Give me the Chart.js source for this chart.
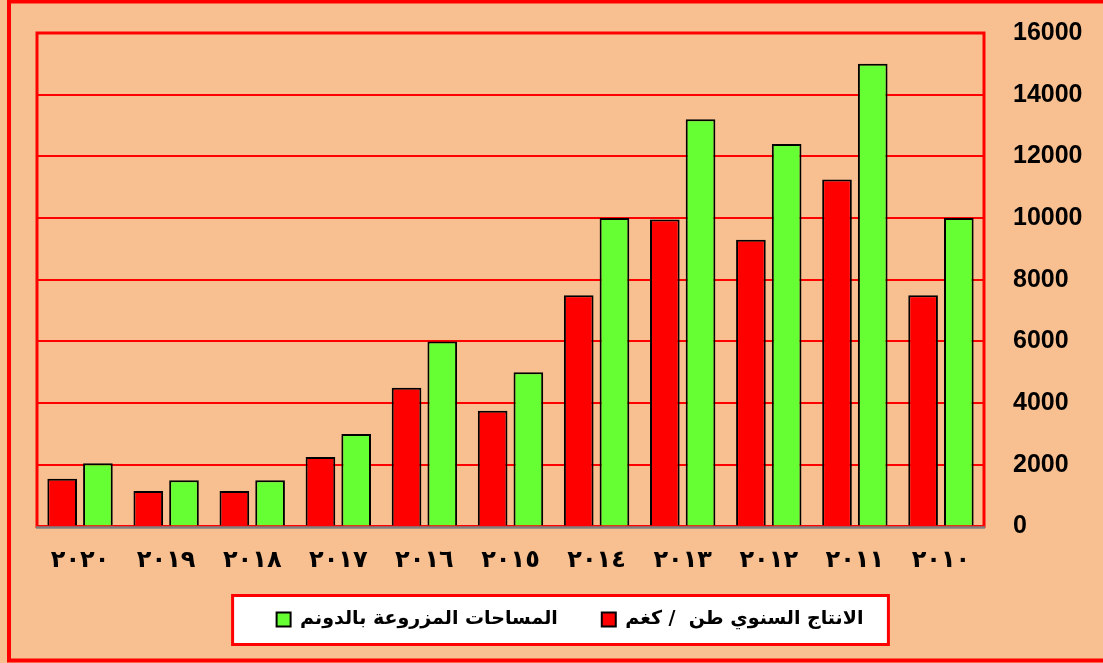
<!DOCTYPE html>
<html>
<head>
<meta charset="utf-8">
<script src="https://cdn.jsdelivr.net/npm/chart.js@4.4.1/dist/chart.umd.min.js"></script>
<style>
  body { margin: 0; background: #F8C090; }
</style>
</head>
<body>
<canvas id="ctx_production" width="1103" height="663"></canvas>
<script>
var years      = ['٢٠٢٠', '٢٠١٩', '٢٠١٨', '٢٠١٧', '٢٠١٦', '٢٠١٥', '٢٠١٤', '٢٠١٣', '٢٠١٢', '٢٠١١', '٢٠١٠'];
var production = [1550, 1150, 1150, 2250, 4500, 3750, 7500, 9950, 9300, 11250, 7500];
var areas      = [2050, 1500, 1500, 3000, 6000, 5000, 10000, 13200, 12400, 15000, 10000];
var productionLabel = 'الانتاج السنوي طن  / كغم';
var areasLabel      = 'المساحات المزروعة بالدونم';

var frame = {
    id: 'frame',
    afterLayout: function(chart) {
        // let the year labels run below the (short) x scale box
        chart.scales.x.bottom = chart.legend.bottom;
    },
    beforeDraw: function(chart) {
        var c = chart.ctx;
        c.save();
        c.fillStyle = '#F8C090';
        c.fillRect(0, 0, chart.width, chart.height);
        c.strokeStyle = '#FF0000';
        c.lineWidth = 4;
        c.strokeRect(9, 1.5, chart.width + 10, chart.height - 4);
        // legend box
        var boxes = chart.legend.legendHitBoxes;
        if (boxes && boxes.length) {
            var first = boxes[0], last = boxes[boxes.length - 1];
            var cy = first.top + first.height / 2;
            var x0 = first.left - 44, x1 = last.left + last.width + 25;
            c.fillStyle = '#FFFFFF';
            c.fillRect(x0, cy - 24, x1 - x0, 49);
            c.lineWidth = 3;
            c.strokeRect(x0, cy - 24, x1 - x0, 49);
        }
        c.restore();
    },
    beforeDatasetsDraw: function(chart) {
        var a = chart.chartArea, c = chart.ctx;
        c.save();
        c.strokeStyle = '#FF0000';
        c.lineWidth = 3;
        c.strokeRect(a.left, a.top, a.right - a.left, a.bottom - a.top);
        c.strokeStyle = '#808080';
        c.lineWidth = 2.5;
        c.beginPath();
        c.moveTo(a.left - 1, a.bottom + 1);
        c.lineTo(a.right + 1, a.bottom + 1);
        c.stroke();
        c.restore();
    }
};

var ctx = document.getElementById('ctx_production');
var myChart = new Chart(ctx, {
    type: 'bar',
    data: {
        labels: years,
        datasets: [
            {
                label: productionLabel,
                data: production,
                backgroundColor: '#FF0000',
                borderColor: '#000000',
                borderWidth: 2,
            },
            {
                label: areasLabel,
                data: areas,
                backgroundColor: '#66FF33',
                borderColor: '#000000',
                borderWidth: 2,
            }
        ]
    },
    options: {
        responsive: false,
        animation: false,
        devicePixelRatio: 1,
        categoryPercentage: 0.83,
        barPercentage: 0.83,
        layout: {
            padding: { top: 33, left: 37, right: 0, bottom: 24 }
        },
        scales: {
            x: {
                grid: { display: false, drawTicks: false },
                border: { display: false },
                ticks: {
                    padding: 20,
                    color: '#000',
                    font: { family: 'DejaVu Sans', size: 24, weight: 'bold' },
                },
                afterFit: function(scale) { scale.height = 39.5; }
            },
            y: {
                position: 'right',
                min: 0,
                max: 16000,
                grid: { color: '#FF0000', lineWidth: 2, drawTicks: false },
                border: { display: false },
                ticks: {
                    stepSize: 2000,
                    padding: 29,
                    color: '#000',
                    font: { family: 'Liberation Sans', size: 25, weight: 'bold' },
                    callback: function(value) { return String(value); }
                },
                afterFit: function(scale) {
                    scale.width = 119;
                    scale.paddingTop = 0;
                    scale.paddingBottom = 0;
                }
            }
        },
        plugins: {
            tooltip: { enabled: false },
            legend: {
                position: 'bottom',
                reverse: true,
                labels: {
                    boxWidth: 14,
                    boxHeight: 14,
                    padding: 44,
                    color: '#000',
                    font: { family: 'DejaVu Sans', size: 19, weight: 'bold' },
                }
            }
        }
    },
    plugins: [frame]
});
</script>
</body>
</html>
